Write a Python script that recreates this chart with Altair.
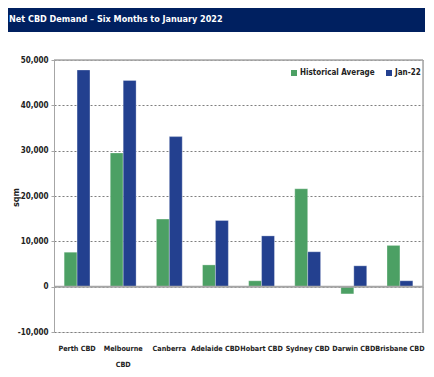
import altair as alt
import pandas as pd

cities = ["Perth CBD", "Melbourne CBD", "Canberra", "Adelaide CBD", "Hobart CBD",
          "Sydney CBD", "Darwin CBD", "Brisbane CBD"]
historical = [7600, 29500, 14900, 4800, 1300, 21600, -1600, 9100]
jan22 = [47800, 45500, 33100, 14600, 11200, 7700, 4600, 1300]
series = ["Historical Average", "Jan-22"]
colors = ["#4ca064", "#23408f"]
y_ticks = [-10000, 0, 10000, 20000, 30000, 40000, 50000]
title_text = "Net CBD Demand \u2013 Six Months to January 2022"

rows = []
for c, h, j in zip(cities, historical, jan22):
    rows.append({"city": c, "series": series[0], "value": h})
    rows.append({"city": c, "series": series[1], "value": j})
df = pd.DataFrame(rows)

FONT = "DejaVu Sans Condensed"
W, H = 369, 272

bars = alt.Chart(df).mark_bar(stroke="#ffffff", strokeOpacity=0.5, strokeWidth=0.6).encode(
    x=alt.X("city:N", sort=cities,
            scale=alt.Scale(paddingInner=0.44, paddingOuter=0.22),
            axis=alt.Axis(title=None, domain=False, ticks=False, labelAngle=0,
                          labelPadding=12, labelFont=FONT, labelFontWeight="bold",
                          labelFontSize=7.2, labelColor="#222222", labelLimit=80,
                          labelExpr="datum.value == 'Melbourne CBD' ? ['Melbourne', 'CBD'] : datum.value",
                          labelLineHeight=16)),
    xOffset=alt.XOffset("series:N", sort=series, scale=alt.Scale(paddingInner=0, paddingOuter=0)),
    y=alt.Y("value:Q", scale=alt.Scale(domain=[-10000, 50000], nice=False),
            axis=alt.Axis(title="sqm", values=y_ticks, grid=True, gridDash=[2, 2],
                          gridColor="#7f7f7f", gridWidth=1,
                          domainColor="#a6a6a6", tickColor="#a6a6a6", tickSize=3,
                          labelPadding=3, labelFont=FONT, labelFontWeight="bold",
                          labelFontSize=8, labelColor="#222222",
                          labelExpr="datum.value < 0 ? '-' + format(-datum.value, ',') : format(datum.value, ',')",
                          titleFont=FONT, titleFontSize=9, titleFontWeight="bold",
                          titleColor="#222222", titleX=-34, titleY=137)),
    color=alt.Color("series:N", sort=series,
                    scale=alt.Scale(domain=series, range=colors),
                    legend=alt.Legend(title=None, orient="none", direction="horizontal",
                                      legendX=236, legendY=9, symbolType="square",
                                      symbolSize=36, symbolStrokeWidth=0,
                                      labelFont=FONT, labelFontSize=8,
                                      labelFontWeight="bold", labelColor="#222222",
                                      columnPadding=10, labelOffset=2)),
)

ref = pd.DataFrame({"v": [0]})
zero_line = alt.Chart(ref).mark_rule(color="#a6a6a6", strokeWidth=2).encode(y="v:Q")
top_border = alt.Chart(pd.DataFrame({"v": [50000]})).mark_rule(color="#a6a6a6", strokeWidth=1.5).encode(y="v:Q")
right_border = alt.Chart(ref).mark_rule(color="#a6a6a6", strokeWidth=1.5).encode(
    x=alt.value(W), y=alt.value(0), y2=alt.value(H))

banner = alt.Chart(ref).mark_rect(color="#002060").encode(
    x=alt.value(-50), x2=alt.value(377), y=alt.value(-54), y2=alt.value(-28))
banner_text = alt.Chart(pd.DataFrame({"t": [title_text]})).mark_text(
    align="left", baseline="middle", color="white", font=FONT, fontSize=9,
    fontWeight="bold").encode(x=alt.value(-45), y=alt.value(-41), text="t:N")

chart = alt.layer(bars, zero_line, top_border, right_border, banner, banner_text).properties(
    width=W, height=H,
    autosize=alt.AutoSizeParams(type="none"),
    padding={"left": 46, "top": 52, "right": 2, "bottom": 37},
).configure_view(stroke=None).configure(background="white")

chart.save("out.html", embed_options={"renderer": "svg", "actions": False})
